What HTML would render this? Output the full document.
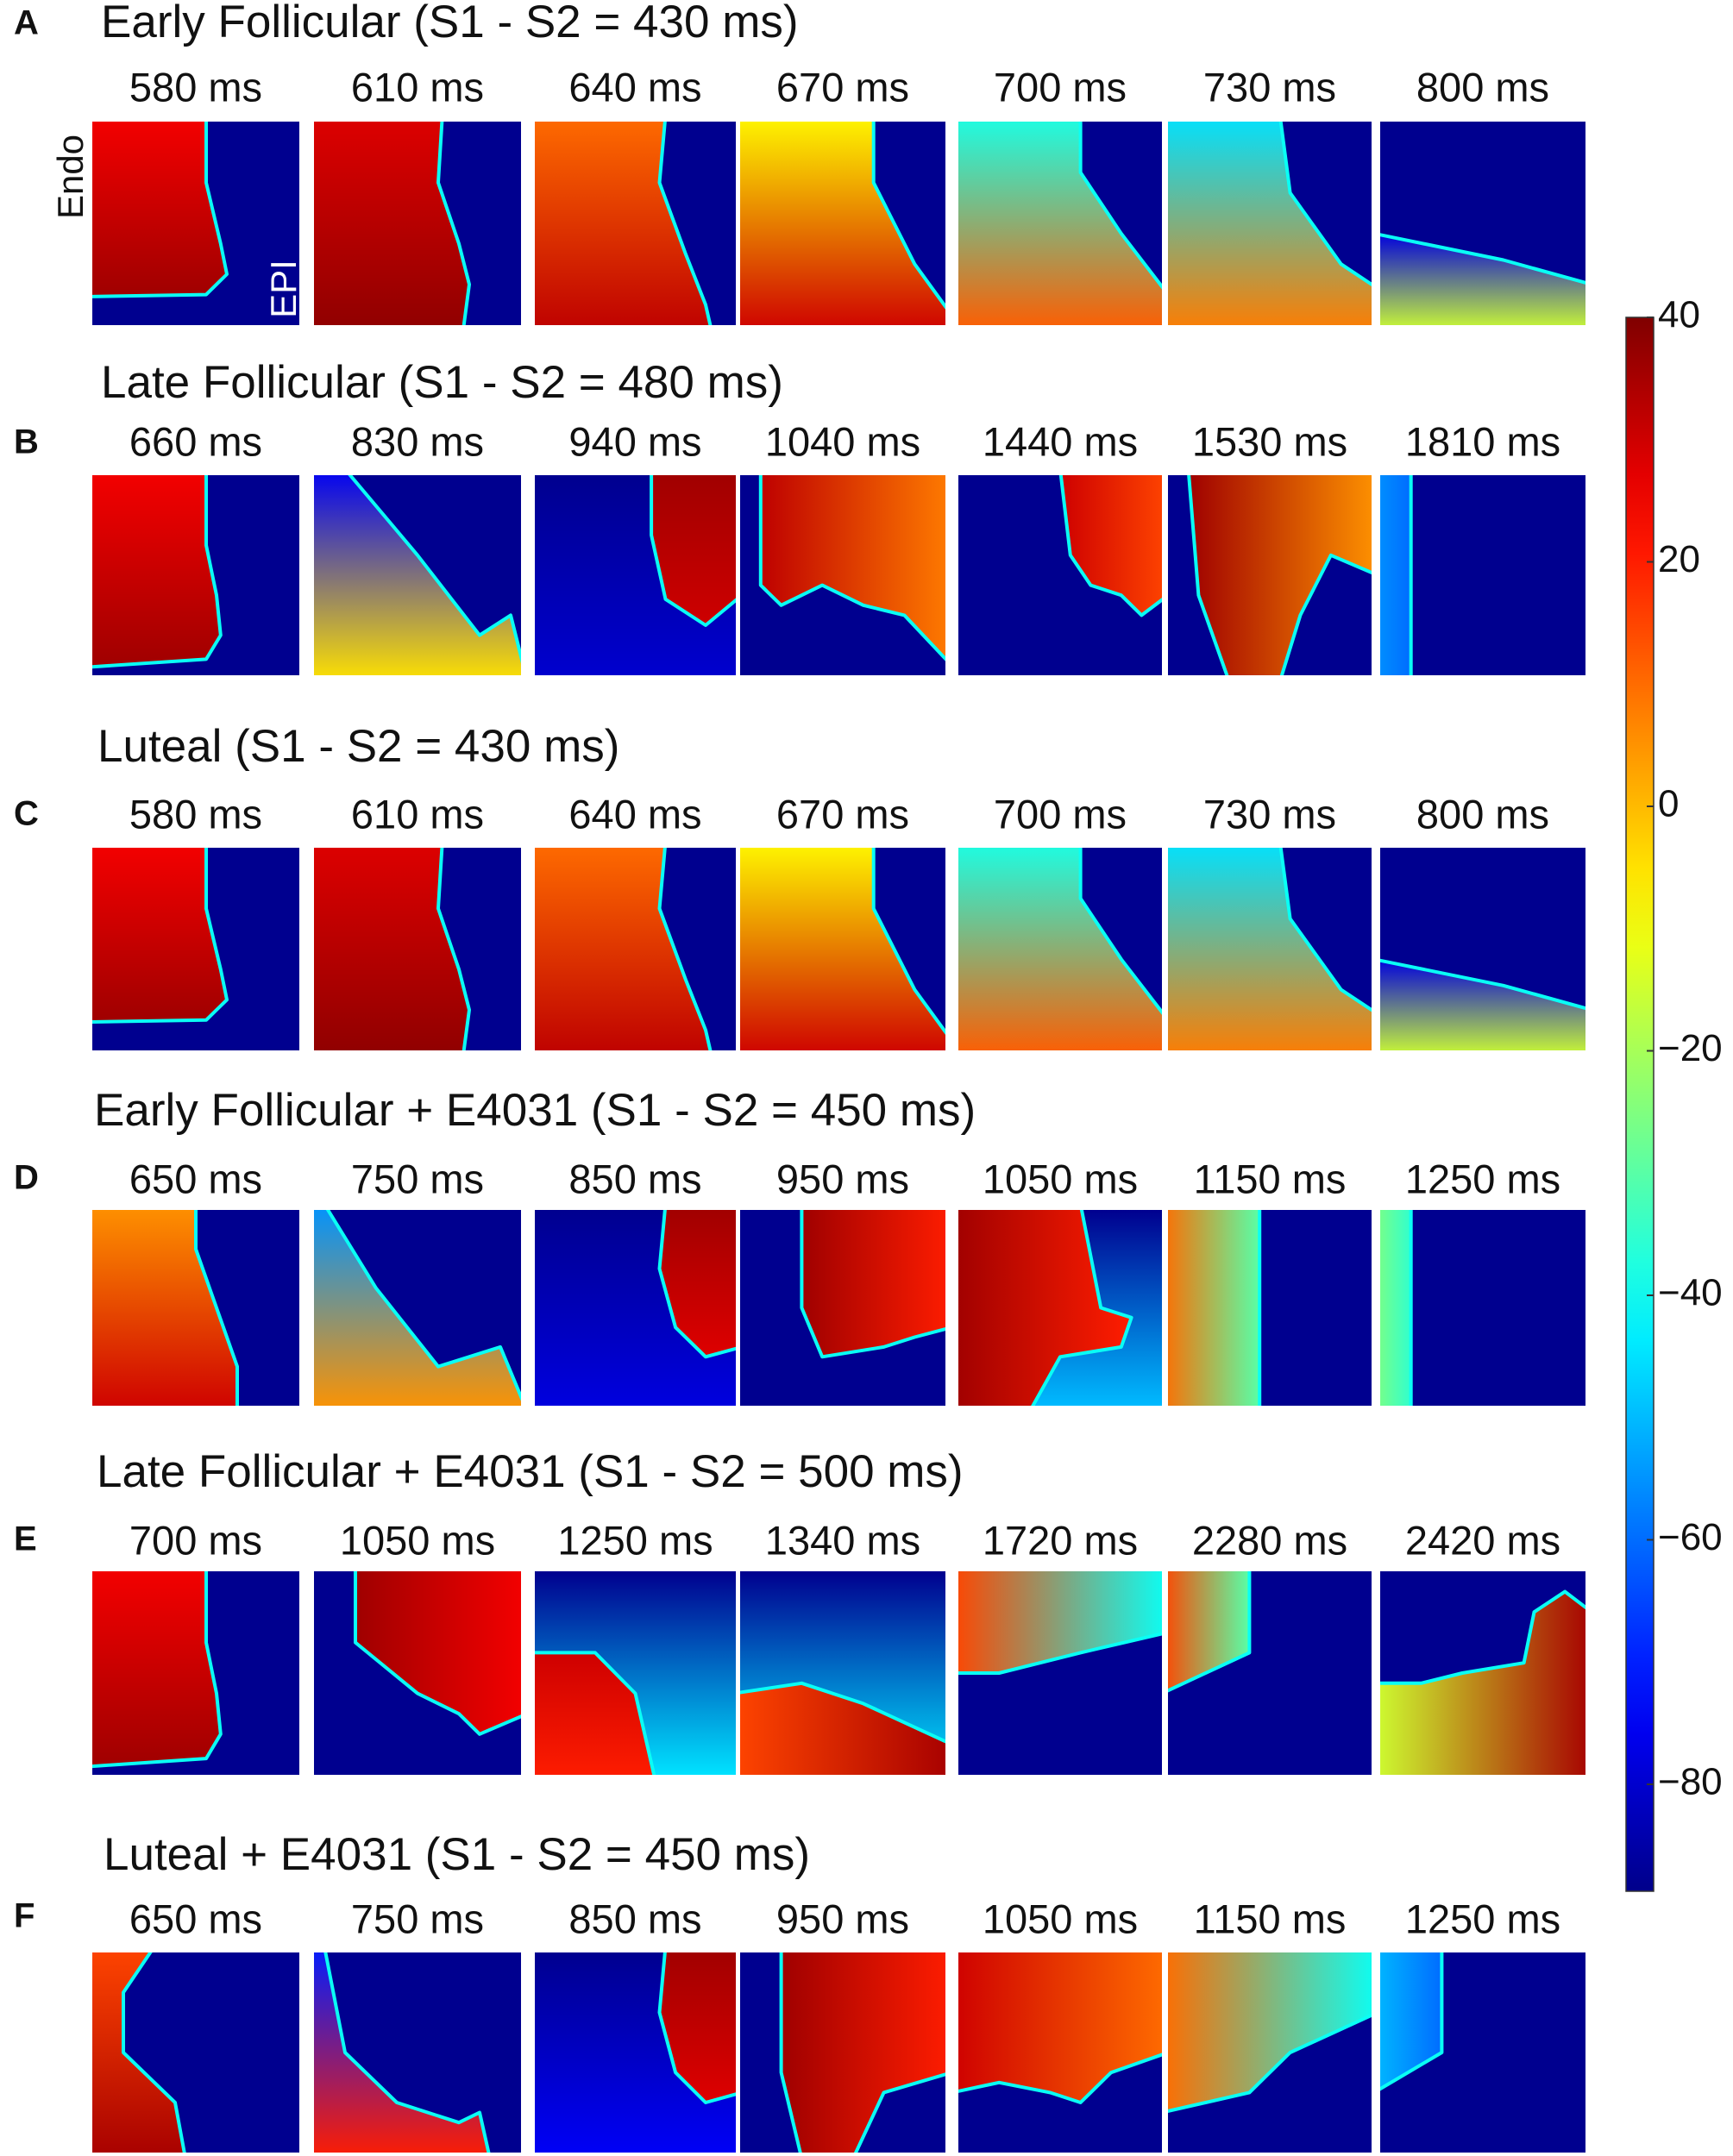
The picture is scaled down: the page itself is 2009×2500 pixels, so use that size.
<!DOCTYPE html>
<html><head><meta charset="utf-8">
<style>
html,body{margin:0;padding:0;background:#fff;}
body{width:2009px;height:2500px;position:relative;overflow:hidden;font-family:"Liberation Sans",sans-serif;}
</style></head><body>
<svg id="fig" width="2009" height="2500" style="position:absolute;left:0;top:0"></svg>
<script>
const rowLetters=["A","B","C","D","E","F"];
const rowTitles=["Early Follicular (S1 - S2 = 430 ms)","Late Follicular (S1 - S2 = 480 ms)","Luteal (S1 - S2 = 430 ms)","Early Follicular + E4031 (S1 - S2 = 450 ms)","Late Follicular + E4031 (S1 - S2 = 500 ms)","Luteal + E4031 (S1 - S2 = 450 ms)"];
const rowTimes=[
 ["580","610","640","670","700","730","800"],
 ["660","830","940","1040","1440","1530","1810"],
 ["580","610","640","670","700","730","800"],
 ["650","750","850","950","1050","1150","1250"],
 ["700","1050","1250","1340","1720","2280","2420"],
 ["650","750","850","950","1050","1150","1250"]];
const tickValues=[40,20,0,-20,-40,-60,-80];
// panel: [polygon (0-100 units), value1, value2, gradient dir, background value]
const panels=[
 [["0,0 55,0 55,30 62,60 65,75 55,85 0,86",25,36,"v",-88],["0,0 62,0 60,30 70,60 75,80 72,100 0,100",28,38,"v",-88],["0,0 65,0 62,30 75,65 85,90 88,100 0,100",10,32,"v",-88],["0,0 65,0 65,30 85,70 100,95 100,100 0,100",-8,30,"v",-88],["0,0 60,0 60,25 80,55 100,85 100,100 0,100",-38,12,"v",-88],["0,0 55,0 60,35 85,70 100,82 100,100 0,100",-45,8,"v",-88],["0,55 60,68 100,80 100,100 0,100",-78,-15,"v",-88]],
 [["0,0 55,0 55,35 60,60 62,80 55,92 0,96",25,36,"v",-88],["0,0 15,0 50,40 80,80 95,70 100,100 0,100",-75,-5,"v",-88],["58,0 100,0 100,60 85,75 65,62 58,30",36,30,"v",-80],["10,0 100,0 100,95 80,70 60,65 40,55 20,65 10,55",32,8,"h",-88],["50,0 100,0 100,60 90,70 80,60 65,55 55,40",30,15,"h",-88],["10,0 100,0 100,50 80,40 65,70 55,100 30,100 15,60",36,5,"h",-88],["0,0 15,0 15,100 0,100",-55,-60,"h",-88]],
 [["0,0 55,0 55,30 62,60 65,75 55,85 0,86",25,36,"v",-88],["0,0 62,0 60,30 70,60 75,80 72,100 0,100",28,38,"v",-88],["0,0 65,0 62,30 75,65 85,90 88,100 0,100",10,32,"v",-88],["0,0 65,0 65,30 85,70 100,95 100,100 0,100",-8,30,"v",-88],["0,0 60,0 60,25 80,55 100,85 100,100 0,100",-38,12,"v",-88],["0,0 55,0 60,35 85,70 100,82 100,100 0,100",-45,8,"v",-88],["0,55 60,68 100,80 100,100 0,100",-78,-15,"v",-88]],
 [["0,0 50,0 50,20 60,50 70,80 70,100 0,100",5,30,"v",-88],["0,0 5,0 30,40 60,80 90,70 100,100 0,100",-55,5,"v",-88],["65,0 100,0 100,70 85,75 70,60 62,30",36,28,"v",-78],["30,0 100,0 100,60 85,65 70,70 40,75 30,50",36,20,"h",-88],["0,0 60,0 70,50 85,55 80,70 50,75 35,100 0,100",36,20,"h",-50],["0,0 45,0 45,100 0,100",10,-30,"h",-88],["0,0 15,0 15,100 0,100",-25,-35,"h",-88]],
 [["0,0 55,0 55,35 60,60 62,80 55,92 0,96",25,36,"v",-88],["20,0 100,0 100,70 80,80 70,70 50,60 20,35",36,25,"h",-88],["0,40 30,40 50,60 60,100 0,100",30,20,"v",-45],["0,60 30,55 60,65 100,85 100,100 0,100",15,35,"h",-45],["0,0 100,0 100,30 60,40 20,50 0,50",15,-40,"h",-88],["0,0 40,0 40,40 0,60",15,-30,"h",-88],["0,55 20,55 40,50 70,45 75,20 90,10 100,20 100,100 0,100",-15,35,"h",-88]],
 [["0,0 30,0 15,20 15,50 40,75 45,100 0,100",15,35,"v",-88],["0,0 5,0 15,50 40,75 70,85 80,80 85,100 0,100",-70,20,"v",-88],["65,0 100,0 100,70 85,75 70,60 62,30",36,28,"v",-75],["20,0 100,0 100,60 70,70 55,100 30,100 20,60",36,20,"h",-88],["0,0 100,0 100,50 75,60 60,75 45,70 20,65 0,70",30,10,"h",-88],["0,0 100,0 100,30 60,50 40,70 0,80",10,-40,"h",-88],["0,0 30,0 30,50 0,70",-50,-60,"h",-88]]];

function jet(v){let t=(v+90)/130;t=Math.max(0,Math.min(1,t));
 const f=x=>Math.round(255*Math.max(0,Math.min(1,1.5-Math.abs(4*t-x))));
 return `rgb(${f(3)},${f(2)},${f(1)})`;}
const svg=document.getElementById('fig');const NS="http://www.w3.org/2000/svg";
function mk(tag,at,parent){const e=document.createElementNS(NS,tag);for(const k in at)e.setAttribute(k,at[k]);(parent||svg).appendChild(e);return e;}
const defs=mk('defs',{});
const rowTop=[141,551,983,1403,1822,2264],rowBot=[377,783,1218,1630,2058,2496];
const colX=[[107,347],[364,604],[620,853],[858,1096],[1111,1347],[1354,1590],[1600,1838]];
const titleY=[29,447,869,1291,1710,2154],titleX=[117,117,113,109,112,120];
const letterY=[29,515,946,1368,1787,2224],timeY=[105,516,948,1371,1790,2229];
function txt(x,y,s,size,name,anchor,extra){const e=mk('text',Object.assign({x:x,y:y,'font-size':size,'font-family':'Liberation Sans, sans-serif','text-anchor':anchor||'start','dominant-baseline':'middle',fill:'#111'},extra||{}));e.textContent=s;
 
 return e;}
let gid=0;
for(let r=0;r<6;r++){
 txt(16,letterY[r],rowLetters[r],40,'panel-letter-'+rowLetters[r].toLowerCase(),'start',{'font-weight':'bold'});
 txt(titleX[r],titleY[r],rowTitles[r],53,'row-title-'+rowLetters[r].toLowerCase());
 for(let c=0;c<7;c++){
  const [x0,x1]=colX[c],y0=rowTop[r],y1=rowBot[r],w=x1-x0,h=y1-y0;
  txt((x0+x1)/2,timeY[r],rowTimes[r][c]+" ms",47,'time-label','middle');
  const p=panels[r][c];
  const g=mk('g',{});
  
  
  const cp=mk('clipPath',{id:'c'+gid},defs);mk('rect',{x:x0,y:y0,width:w,height:h},cp);
  const lg=mk('linearGradient',{id:'g'+gid,x1:0,y1:0,x2:p[3]=='h'?1:0,y2:p[3]=='h'?0:1},defs);
  mk('stop',{offset:0,'stop-color':jet(p[1])},lg);mk('stop',{offset:1,'stop-color':jet(p[2])},lg);
  const bg=mk('linearGradient',{id:'b'+gid,x1:0,y1:0,x2:0,y2:1},defs);
  mk('stop',{offset:0,'stop-color':jet(-88)},bg);mk('stop',{offset:1,'stop-color':jet(p[4])},bg);
  mk('rect',{x:x0,y:y0,width:w,height:h,fill:'url(#b'+gid+')'},g);
  const inner=mk('g',{'clip-path':'url(#c'+gid+')'},g);
  const pts=p[0].split(' ').map(s=>{let [a,b]=s.split(',').map(Number);a=a<=0?-3:a>=100?103:a;b=b<=0?-3:b>=100?103:b;return (x0+a/100*w).toFixed(1)+','+(y0+b/100*h).toFixed(1);}).join(' ');
  mk('polygon',{points:pts,fill:'url(#g'+gid+')',stroke:jet(-40),'stroke-width':4,'stroke-linejoin':'round'},inner);
  gid++;
 }
}
txt(85,205,"Endo",42,'endo-label','middle',{transform:'rotate(-90 85 205)'});
txt(332,335,"EPI",42,'epi-label','middle',{transform:'rotate(-90 332 335)',fill:'#fff'});
// colorbar
const vTop=40,yTop=368,pxPer=(2069-368)/120;const yOf=v=>yTop+(vTop-v)*pxPer;
const cg=mk('linearGradient',{id:'cbar',x1:0,y1:0,x2:0,y2:1},defs);
for(let i=0;i<=20;i++){const v=40-(40+88.7)*i/20;mk('stop',{offset:i/20,'stop-color':jet(v)},cg);}
const cb=mk('rect',{x:1885,y:368,width:32,height:2193-368,fill:'url(#cbar)',stroke:'#333','stroke-width':1.5});


tickValues.forEach(v=>{const y=yOf(v);mk('line',{x1:1909,x2:1917,y1:y,y2:y,stroke:'#333','stroke-width':2});
 txt(1922,y,v<0?"\u2212"+(-v):String(v),44,'colorbar-tick-label');});
</script>
</body></html>
